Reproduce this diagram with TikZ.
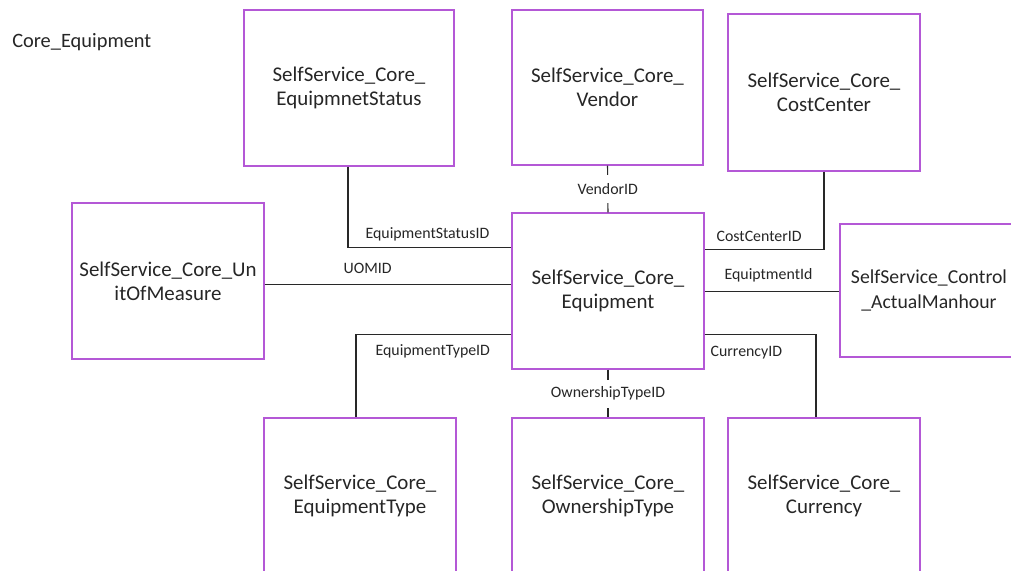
\documentclass[tikz,border=0pt]{standalone}
\usepackage{fontspec}
\setmainfont{Carlito}
\usetikzlibrary{calc}
\definecolor{boxc}{RGB}{180,88,214}
\definecolor{linec}{RGB}{40,40,40}
\begin{document}
\begin{tikzpicture}[x=0.75pt,y=-0.75pt,
  tbl/.style={draw=boxc, line width=1.1pt, inner sep=0pt, align=center,
    font=\fontsize{15.7}{18.2}\selectfont, text=black!85},
  conn/.style={draw=linec, line width=0.8pt},
  lab/.style={font=\fontsize{11.9}{13}\selectfont, text=black!85, inner sep=1pt},
  midlab/.style={lab, fill=white, minimum height=28*0.75pt}]
\useasboundingbox (0,0) rectangle (1011,571);
\clip (0,0) rectangle (1011,571);
\node[anchor=west, font=\fontsize{15.3}{18}\selectfont, text=black!85, inner sep=0pt] (title) at (12,42) {Core\_Equipment};
% tables
\node[tbl, minimum width=210*0.75pt, minimum height=156*0.75pt] (status) at (349,88) {SelfService\_Core\_\\EquipmnetStatus};
\node[tbl, minimum width=191*0.75pt, minimum height=155*0.75pt] (vendor) at (607.5,87.5) {SelfService\_Core\_\\Vendor};
\node[tbl, minimum width=192*0.75pt, minimum height=157*0.75pt] (cost) at (824,92.5) {SelfService\_Core\_\\CostCenter};
\node[tbl, minimum width=192*0.75pt, minimum height=156*0.75pt] (uom) at (168,281) {SelfService\_Core\_Un\\itOfMeasure};
\node[tbl, minimum width=192*0.75pt, minimum height=156*0.75pt] (eq) at (608,291) {SelfService\_Core\_\\Equipment};
\node[tbl, font=\fontsize{14.8}{18.2}\selectfont, minimum width=178*0.75pt, minimum height=133*0.75pt] (man) at (929,290.5) {SelfService\_Control\\\_ActualManhour};
\node[tbl, minimum width=192*0.75pt, minimum height=156*0.75pt] (etype) at (360,496) {SelfService\_Core\_\\EquipmentType};
\node[tbl, minimum width=192*0.75pt, minimum height=156*0.75pt] (own) at (608,496) {SelfService\_Core\_\\OwnershipType};
\node[tbl, minimum width=192*0.75pt, minimum height=156*0.75pt] (cur) at (824,496) {SelfService\_Core\_\\Currency};
% connectors
\draw[conn] ($(status.south)+(-1,0)$) |- ($(eq.north west)+(0,35)$);
\node[lab, anchor=base west] (lstatus) at (364,238) {EquipmentStatusID};
\draw[conn] (vendor.south) -- node[midlab] (lvendor) {VendorID} (eq.north);
\draw[conn] (cost.south) |- ($(eq.north east)+(0,37)$);
\node[lab, anchor=base west] (lcost) at (715,241) {CostCenterID};
\draw[conn] ($(eq.north east)+(0,79)$) -- (man.west |- {$(eq.north east)+(0,79)$});
\node[lab, anchor=base west] (lman) at (723,279) {EquiptmentId};
\draw[conn] ($(uom.north east)+(0,82)$) -- ($(eq.north west)+(0,72)$);
\node[lab, anchor=base west] (luom) at (342,273) {UOMID};
\draw[conn] ($(eq.north west)+(0,122)$) -| ($(etype.north)+(-4,0)$);
\node[lab, anchor=base west] (ltype) at (374,355) {EquipmentTypeID};
\draw[conn] (eq.south) -- node[midlab] (lown) {OwnershipTypeID} (own.north);
\draw[conn] ($(eq.north east)+(0,122)$) -| ($(cur.north)+(-8,0)$);
\node[lab, anchor=base west] (lcur) at (709,356) {CurrencyID};
\end{tikzpicture}
\end{document}
